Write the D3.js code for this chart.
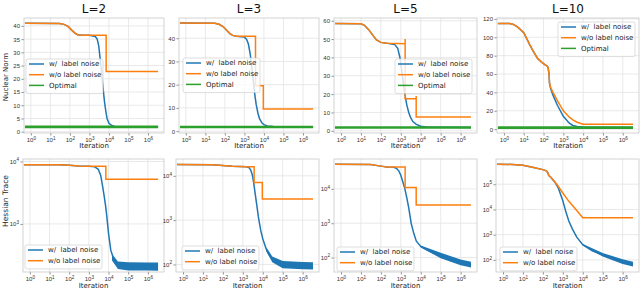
<!DOCTYPE html>
<html><head><meta charset="utf-8">
<script src="https://cdn.jsdelivr.net/npm/d3@7"></script>
<style>body{margin:0;background:#fff}svg{display:block;font-family:"DejaVu Sans",sans-serif}</style>
</head><body><svg id="c" width="640" height="289"></svg>
<script>
// ---------------- DATA ----------------
const titles = ["L=2", "L=3", "L=5", "L=10"];
const iterTicks = [1, 10, 100, 1000, 10000, 100000, 1000000];
const seriesNames = ["w/  label noise", "w/o label noise", "Optimal"];
const optimalValue = [1.8, 1.8, 1.8, 1.6];
const nucTicks = [[0,5,10,15,20,25,30,35,40],[0,10,20,30,40],[0,10,20,30,40,50,60],[0,20,40,60,80,100,120]];
const hesTicks = [[1e3,1e4],[1e2,1e3,1e4],[1e2,1e3,1e4],[1e2,1e3,1e4,1e5]];
const iterRange = [0.5, 3.3e6];

// Nuclear norm, [iteration, value]
const nuc_w_L2 = [[0.5,41],[30,40.9],[50,40.6],[80,39.8],[120,38.5],[180,37.3],[250,36.7],[400,36.5],[1000,36.5],[2000,36],[2500,35],[3000,32.5],[3500,28],[4000,24],[4500,20],[5000,16.5],[6000,11],[7000,7.5],[8000,5],[10000,3.2],[14000,2.3],[20000,2],[3.3e6,1.85]];
const nuc_wo_L2 = [[0.5,41],[30,40.9],[50,40.6],[80,39.8],[120,38.5],[180,37.3],[250,36.7],[400,36.5],[7200,36.5],[7200,22.8],[3.3e6,22.8]];
const nuc_w_L3 = [[0.5,46.5],[30,46.4],[50,46],[80,45],[120,43.5],[180,42],[250,41.2],[400,40.8],[1000,40.5],[1300,39.5],[1600,37.5],[2000,33],[2500,26],[3000,20],[3500,15],[4000,11.5],[5000,7.5],[6000,5.3],[8000,3.5],[10000,2.8],[15000,2.2],[30000,2],[3.3e6,1.8]];
const nuc_wo_L3 = [[0.5,46.5],[30,46.4],[50,46],[80,45],[120,43.5],[180,42],[250,41.2],[400,40.8],[3700,40.8],[3700,19.5],[9300,19.5],[9300,9.5],[3.3e6,9.5]];
const nuc_w_L5 = [[0.5,58.5],[10,58.3],[15,57.5],[25,55],[40,52],[60,49.5],[100,48.2],[200,47.7],[300,47.5],[500,47],[700,45],[900,40],[1100,33],[1300,27],[1600,20],[2000,14],[2500,10],[3000,7.5],[4000,5],[6000,3.5],[10000,2.5],[20000,2.1],[3.3e6,1.8]];
const nuc_wo_L5 = [[0.5,58.5],[10,58.3],[15,57.5],[25,55],[40,52],[60,49.5],[100,48.2],[200,47.7],[1650,47.5],[1650,50],[1650,17.5],[5900,17.5],[5900,19],[5900,7.5],[3.3e6,7.5]];
const nuc_w_L10 = [[0.5,115],[2,115],[3,114],[5,111],[10,105],[20,92],[30,85],[50,77],[80,73],[120,70],[150,69],[170,67],[190,60],[200,50],[230,44],[300,37],[500,26],[1000,14],[2000,6.5],[3000,4],[5000,2.8],[10000,2.2],[3.3e6,1.9]];
const nuc_wo_L10 = [[0.5,115],[2,115],[3,114],[5,111],[10,105],[20,92],[30,85],[50,77],[80,73],[120,70],[150,69],[170,67],[190,60],[200,50],[230,45],[300,40],[500,31],[1000,20],[2000,13],[3000,10],[5000,7.5],[10000,5.3],[3.3e6,5.3]];

// Hessian trace, [iteration, value]; band = [iteration, low, high] of the noisy tail
const hes_w_L2 = [[0.5,8900],[30,8900],[100,8700],[300,8500],[1000,8400],[2000,8200],[3000,7500],[4000,6000],[5000,4000],[6000,2800],[7000,2000],[8000,1400],[10000,700],[13000,380],[20000,250],[50000,215],[3.3e6,210]];
const hes_wo_L2 = [[0.5,8900],[30,8900],[100,8700],[300,8500],[1000,8400],[7300,8400],[7300,5200],[3.3e6,5200]];
const hes_band_L2 = [[15000,260,330],[30000,190,250],[100000,180,243],[1e6,180,240],[3.3e6,178,240]];
const hes_w_L3 = [[0.5,18000],[30,17800],[300,16500],[1500,16000],[2000,15500],[2500,13500],[3000,10500],[3500,7000],[4000,4500],[5000,2200],[6000,1200],[7000,800],[8000,580],[10000,380],[15000,220],[20000,170],[30000,130],[50000,110],[100000,100],[3.3e6,93]];
const hes_wo_L3 = [[0.5,18000],[30,17800],[300,16500],[1500,16000],[3700,16000],[3700,7100],[9500,7100],[9500,3000],[3.3e6,3000]];
const hes_band_L3 = [[15000,200,245],[30000,112,152],[100000,82,120],[1e6,78,113],[3.3e6,77,112]];
const hes_w_L5 = [[0.5,52000],[30,51000],[100,46000],[200,43500],[400,43000],[600,40000],[800,33000],[1000,25000],[1300,15000],[1600,10000],[2000,5500],[2500,2800],[3300,1000],[4500,500],[6000,300],[10000,210],[30000,150],[100000,115],[300000,90],[1e6,72],[3.3e6,62]];
const hes_wo_L5 = [[0.5,52000],[30,51000],[100,46000],[200,43500],[400,43000],[1650,43000],[1650,11000],[5900,11000],[5900,3400],[3.3e6,3400]];
const hes_band_L5 = [[10000,198,224],[100000,96,138],[1e6,60,88],[3.3e6,51,76]];
const hes_w_L10 = [[0.5,620000],[3,610000],[10,570000],[30,470000],[100,380000],[150,340000],[170,300000],[200,220000],[250,190000],[400,120000],[600,70000],[1000,22000],[1500,7000],[2000,3500],[3000,1700],[5000,800],[10000,400],[30000,230],[100000,160],[300000,115],[1e6,85],[3.3e6,68]];
const hes_wo_L10 = [[0.5,620000],[3,610000],[10,570000],[30,470000],[100,380000],[150,340000],[170,300000],[200,220000],[250,190000],[500,100000],[1000,45000],[2000,21000],[5000,9000],[10000,4700],[3.3e6,4700]];
const hes_band_L10 = [[10000,375,425],[100000,135,188],[1e6,68,105],[3.3e6,55,85]];

// ---------------- LAYOUT ----------------
const colors = ["#1f77b4", "#ff7f0e", "#2ca02c"];
const xDomain = [Math.pow(10,-0.35), Math.pow(10,6.82)];
const topBoxes = [[24,164],[179,319],[334,477],[497,639]];
const botBoxes = [[23,164],[176,319],[334,477],[496,639]];
const topY = [18,133], botY = [159,272];
const nucDomains = [[-0.5,43],[-0.8,48.7],[-1.2,61.5],[-4.2,121]];
const hesDomains = [[Math.pow(10,2.23),Math.pow(10,4.04)],[Math.pow(10,1.83),Math.pow(10,4.38)],[Math.pow(10,1.58),Math.pow(10,4.87)],[Math.pow(10,1.52),Math.pow(10,6.0)]];
const topLegends = [[26,59],[183,58],[395,59],[558,22]];
const botLegends = [[25,245],[182,246],[337,247],[500,247]];

const nucW = [nuc_w_L2, nuc_w_L3, nuc_w_L5, nuc_w_L10];
const nucWo = [nuc_wo_L2, nuc_wo_L3, nuc_wo_L5, nuc_wo_L10];
const hesW = [hes_w_L2, hes_w_L3, hes_w_L5, hes_w_L10];
const hesWo = [hes_wo_L2, hes_wo_L3, hes_wo_L5, hes_wo_L10];
const hesBand = [hes_band_L2, hes_band_L3, hes_band_L5, hes_band_L10];

const svg = d3.select("#c");

function powLabel(sel, v) {
  const e = Math.round(Math.log10(v));
  sel.text("10");
  sel.append("tspan").attr("dy", "-0.55em").attr("font-size", "4.6px").text(String(e));
}

function panel(i, row) {
  const box = row === 0 ? topBoxes[i] : botBoxes[i];
  const yr = row === 0 ? topY : botY;
  const x = d3.scaleLog().domain(xDomain).range(box);
  const y = row === 0 ? d3.scaleLinear().domain(nucDomains[i]).range([yr[1], yr[0]])
                      : d3.scaleLog().domain(hesDomains[i]).range([yr[1], yr[0]]);
  const g = svg.append("g");
  const id = "clip" + row + i;
  g.append("clipPath").attr("id", id).append("rect")
    .attr("x", box[0]).attr("y", yr[0]).attr("width", box[1]-box[0]).attr("height", yr[1]-yr[0]);
  const yt = row === 0 ? nucTicks[i] : hesTicks[i];
  g.selectAll(".gx").data(iterTicks).join("line")
    .attr("x1", d=>x(d)).attr("x2", d=>x(d)).attr("y1", yr[0]).attr("y2", yr[1])
    .attr("stroke", "#e3e3e3").attr("stroke-width", 0.8);
  g.selectAll(".gy").data(yt).join("line")
    .attr("y1", d=>y(d)).attr("y2", d=>y(d)).attr("x1", box[0]).attr("x2", box[1])
    .attr("stroke", "#e3e3e3").attr("stroke-width", 0.8);
  const xa = g.append("g").attr("transform", `translate(0,${yr[1]})`)
    .call(d3.axisBottom(x).tickValues(iterTicks).tickSize(2.5).tickPadding(1.5).tickFormat(""));
  xa.selectAll(".tick text").attr("font-size", "6px").attr("fill", "#333").attr("dy", "0.9em")
    .each(function(d){ powLabel(d3.select(this), d); });
  const ya = g.append("g").attr("transform", `translate(${box[0]},0)`)
    .call(d3.axisLeft(y).tickValues(yt).tickSize(2.5).tickPadding(1.5).tickFormat(row===0 ? d3.format("d") : ""));
  ya.selectAll(".tick text").attr("font-size", "6px").attr("fill", "#333");
  if (row === 1) ya.selectAll(".tick text").each(function(d){ powLabel(d3.select(this), d); });
  [xa, ya].forEach(a => { a.select(".domain").remove(); a.selectAll(".tick line").attr("stroke", "#444").attr("stroke-width", 0.6); });
  g.append("rect").attr("x", box[0]).attr("y", yr[0]).attr("width", box[1]-box[0]).attr("height", yr[1]-yr[0])
    .attr("fill", "none").attr("stroke", "#c8c8c8").attr("stroke-width", 0.8);

  const line = d3.line().x(d=>x(d[0])).y(d=>y(d[1]));
  const plot = g.append("g").attr("clip-path", `url(#${id})`);
  if (row === 0) {
    plot.append("path").attr("d", line(nucW[i])).attr("fill","none").attr("stroke", colors[0]).attr("stroke-width", 1.5);
    plot.append("path").attr("d", line(nucWo[i])).attr("fill","none").attr("stroke", colors[1]).attr("stroke-width", 1.5);
    plot.append("path").attr("d", line(iterRange.map(v=>[v, optimalValue[i]]))).attr("fill","none").attr("stroke", colors[2]).attr("stroke-width", 2.6);
  } else {
    const area = d3.area().x(d=>x(d[0])).y0(d=>y(d[1])).y1(d=>y(d[2]));
    plot.append("path").attr("d", area(hesBand[i])).attr("fill", colors[0]);
    plot.append("path").attr("d", line(hesW[i])).attr("fill","none").attr("stroke", colors[0]).attr("stroke-width", 1.5);
    plot.append("path").attr("d", line(hesWo[i])).attr("fill","none").attr("stroke", colors[1]).attr("stroke-width", 1.5);
  }
  const n = row === 0 ? 3 : 2;
  const lp = row === 0 ? topLegends[i] : botLegends[i];
  const lg = g.append("g").attr("transform", `translate(${lp[0]},${lp[1]})`);
  lg.append("rect").attr("width", 77).attr("height", n*10.7+2.5).attr("rx", 2)
    .attr("fill", "#fff").attr("fill-opacity", 0.8).attr("stroke", "#d0d0d0").attr("stroke-width", 0.7);
  for (let k = 0; k < n; k++) {
    const cy = 5 + k*10.7;
    lg.append("line").attr("x1", 3).attr("x2", 18).attr("y1", cy).attr("y2", cy)
      .attr("stroke", colors[k]).attr("stroke-width", 1.5);
    lg.append("text").attr("x", 23).attr("y", cy).attr("dy", "0.35em")
      .attr("font-size", "7px").attr("fill", "#222").style("white-space","pre").text(seriesNames[k]);
  }
  g.append("text").attr("x", (box[0]+box[1])/2).attr("y", row === 0 ? 148 : 288)
    .attr("text-anchor", "middle").attr("font-size", "7px").attr("fill", "#222").text("Iteration");
  if (row === 0) {
    g.append("text").attr("x", (box[0]+box[1])/2).attr("y", 12.5)
      .attr("text-anchor", "middle").attr("font-size", "12px").attr("fill", "#111").text(titles[i]);
  }
}

for (let i = 0; i < 4; i++) { panel(i, 0); panel(i, 1); }
svg.append("text").attr("transform", "translate(8,77) rotate(-90)").attr("text-anchor","middle")
  .attr("font-size","7px").attr("fill","#222").text("Nuclear Norm");
svg.append("text").attr("transform", "translate(8,201) rotate(-90)").attr("text-anchor","middle")
  .attr("font-size","7.5px").attr("fill","#222").text("Hessian Trace");
</script></body></html>
